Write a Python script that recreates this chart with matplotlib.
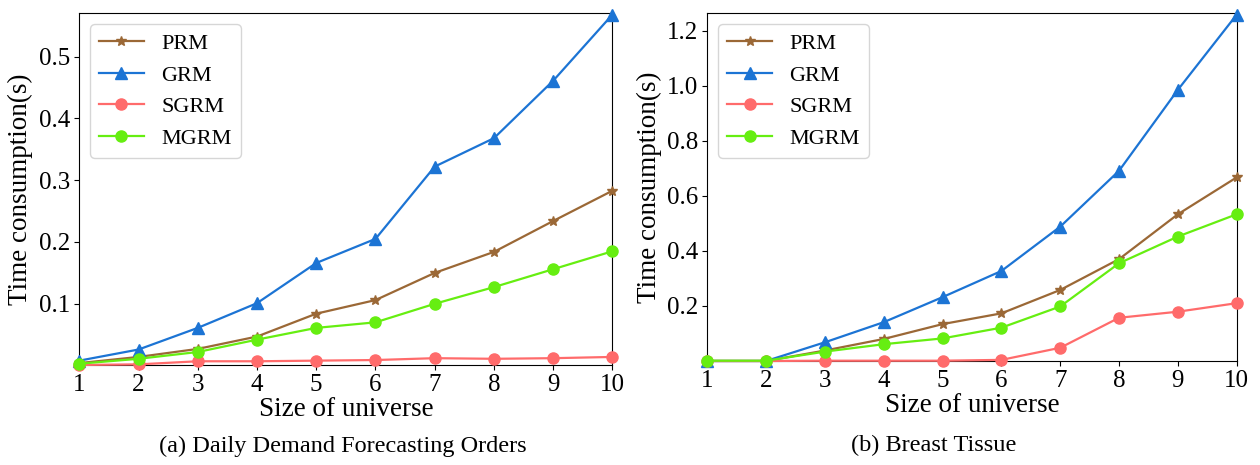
import numpy as np
import matplotlib
matplotlib.use("Agg")
import matplotlib.pyplot as plt

plt.rcParams['font.family'] = ['Liberation Serif', 'DejaVu Serif']

# --- data ---
sizes = [1, 2, 3, 4, 5, 6, 7, 8, 9, 10]
labels = ['PRM', 'GRM', 'SGRM', 'MGRM']

# (a) Daily Demand Forecasting Orders
prm_a = [0.004, 0.014, 0.027, 0.047, 0.084, 0.106, 0.150, 0.184, 0.234, 0.283]
grm_a = [0.008, 0.026, 0.061, 0.101, 0.166, 0.205, 0.322, 0.368, 0.461, 0.568]
sgrm_a = [0.001, 0.002, 0.007, 0.007, 0.008, 0.009, 0.012, 0.011, 0.012, 0.014]
mgrm_a = [0.003, 0.011, 0.022, 0.042, 0.061, 0.070, 0.100, 0.127, 0.156, 0.185]

# (b) Breast Tissue
prm_b = [0.0, 0.0, 0.038, 0.080, 0.134, 0.173, 0.258, 0.370, 0.533, 0.667]
grm_b = [0.0, 0.0, 0.068, 0.141, 0.232, 0.327, 0.488, 0.691, 0.985, 1.258]
sgrm_b = [0.0, 0.0, 0.001, 0.001, 0.001, 0.004, 0.048, 0.157, 0.179, 0.210]
mgrm_b = [0.001, 0.001, 0.034, 0.061, 0.082, 0.121, 0.198, 0.355, 0.452, 0.533]

colors = ['#9B6836', '#1C74D4', '#FF6B6B', '#66EE11']
markers = ['*', '^', 'o', 'o']
msizes = [7, 8, 8, 8]

fig = plt.figure(figsize=(12.6, 4.65), dpi=100)
ax1 = fig.add_axes([0.0629, 0.2151, 0.4232, 0.7563])
ax2 = fig.add_axes([0.5614, 0.2237, 0.4201, 0.7477])


def draw(ax, series, ylim, yticks):
    for vals, lab, c, m, ms in zip(series, labels, colors, markers, msizes):
        ax.plot(sizes, vals, color=c, marker=m, markersize=ms, linewidth=1.6,
                label=lab, clip_on=False, zorder=3)
    ax.set_xlim(1, 10)
    ax.set_ylim(*ylim)
    ax.set_xticks(sizes)
    ax.set_yticks(yticks)
    ax.tick_params(labelsize=18, pad=3)
    ax.set_xlabel('Size of universe', fontsize=19.5, labelpad=1)
    ax.set_ylabel('Time consumption(s)', fontsize=19.5, labelpad=4)
    ax.legend(loc='upper left', fontsize=16)


draw(ax1, [prm_a, grm_a, sgrm_a, mgrm_a], (0.001, 0.57), [0.1, 0.2, 0.3, 0.4, 0.5])
draw(ax2, [prm_b, grm_b, sgrm_b, mgrm_b], (0.0, 1.263), [0.2, 0.4, 0.6, 0.8, 1.0, 1.2])

fig.text(0.272, 0.041, '(a) Daily Demand Forecasting Orders', ha='center', va='center', fontsize=17.5)
fig.text(0.741, 0.041, '(b) Breast Tissue', ha='center', va='center', fontsize=17.5)

fig.savefig('out.png', dpi=100)
